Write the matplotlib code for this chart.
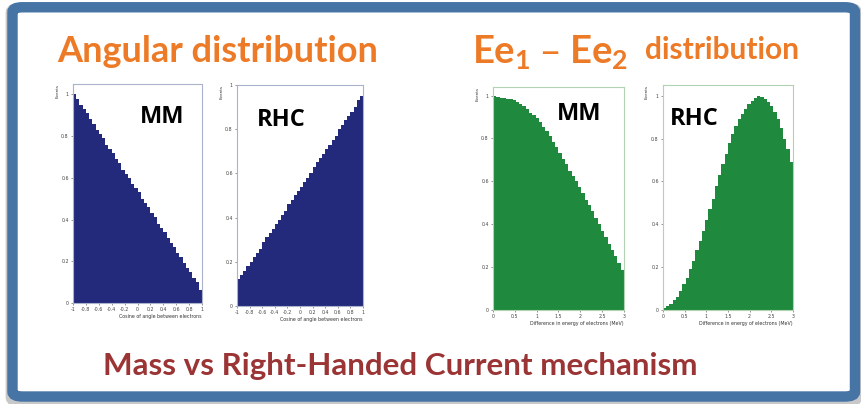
import numpy as np
import matplotlib
matplotlib.use("Agg")
import matplotlib.pyplot as plt
from matplotlib.patches import FancyBboxPatch

# ---------------- data ----------------
ang_mm = [1.00, 0.98, 0.95, 0.93, 0.91, 0.88, 0.86, 0.83, 0.81, 0.79,
          0.76, 0.74, 0.72, 0.69, 0.67, 0.64, 0.62, 0.60, 0.57, 0.55,
          0.53, 0.50, 0.48, 0.46, 0.43, 0.41, 0.38, 0.36, 0.34, 0.31,
          0.29, 0.27, 0.24, 0.22, 0.19, 0.17, 0.15, 0.12, 0.10, 0.06]
ang_rhc = [0.12, 0.14, 0.16, 0.18, 0.20, 0.22, 0.24, 0.26, 0.29, 0.31,
           0.33, 0.35, 0.37, 0.39, 0.41, 0.43, 0.46, 0.48, 0.50, 0.52,
           0.54, 0.56, 0.58, 0.60, 0.63, 0.65, 0.67, 0.69, 0.71, 0.73,
           0.75, 0.77, 0.80, 0.82, 0.84, 0.86, 0.88, 0.90, 0.93, 0.95]
de_mm = [1.00, 0.995, 0.99, 0.99, 0.985, 0.985, 0.98, 0.97, 0.96, 0.95,
         0.935, 0.92, 0.91, 0.895, 0.875, 0.855, 0.835, 0.81, 0.785, 0.76,
         0.73, 0.705, 0.68, 0.65, 0.625, 0.60, 0.575, 0.545, 0.515, 0.49,
         0.46, 0.43, 0.40, 0.37, 0.34, 0.31, 0.28, 0.25, 0.22, 0.185]
de_rhc = [0.01, 0.02, 0.03, 0.045, 0.06, 0.09, 0.12, 0.15, 0.19, 0.23,
          0.28, 0.32, 0.37, 0.42, 0.47, 0.52, 0.58, 0.63, 0.68, 0.73,
          0.78, 0.82, 0.86, 0.89, 0.915, 0.94, 0.96, 0.975, 0.99, 1.00,
          0.995, 0.985, 0.97, 0.95, 0.925, 0.89, 0.85, 0.80, 0.75, 0.69]

ang_range = (-1.0, 1.0)
de_range = (0.0, 3.0)
ang_ticks = [-1, -0.8, -0.6, -0.4, -0.2, 0, 0.2, 0.4, 0.6, 0.8, 1]
ang_ticklabels = ["-1", "-0.8", "-0.6", "-0.4", "-0.2", "0", "0.2", "0.4", "0.6", "0.8", "1"]
de_ticks = [0, 0.5, 1, 1.5, 2, 2.5, 3]
de_ticklabels = ["0", "0.5", "1", "1.5", "2", "2.5", "3"]
y_ticks = [0, 0.2, 0.4, 0.6, 0.8, 1]
y_ticklabels = ["0", "0.2", "0.4", "0.6", "0.8", "1"]

NAVY = "#232a7c"
GREEN = "#1f8a3e"
ORANGE = "#ec7a26"
DARKRED = "#9b3535"
FRAME = "#4674a5"

fig = plt.figure(figsize=(8.61, 4.04), dpi=100)
fig.patch.set_facecolor("white")

# frame with shadow
shadow = FancyBboxPatch((0.013, 0.005), 0.982, 0.975,
                        boxstyle="round,pad=0,rounding_size=0.012",
                        transform=fig.transFigure, facecolor="#c8c8c8",
                        edgecolor="#c8c8c8", linewidth=8, zorder=0)
fig.patches.append(shadow)
frame = FancyBboxPatch((0.0145, 0.0185), 0.9785, 0.9635,
                       boxstyle="round,pad=0,rounding_size=0.012",
                       transform=fig.transFigure, facecolor="white",
                       edgecolor=FRAME, linewidth=7.5, zorder=1)
fig.patches.append(frame)


def panel(rect, values, xr, ylim_top, color, spine_color, xticks, xticklabels,
          xlabel, tag, tag_xy):
    ax = fig.add_axes(rect)
    ax.set_zorder(3)
    n = len(values)
    edges = np.linspace(xr[0], xr[1], n + 1)
    ax.stairs(values, edges, fill=True, color=color, linewidth=0)
    ax.set_xlim(xr)
    ax.set_ylim(0, ylim_top)
    ax.set_xticks(xticks)
    ax.set_xticklabels(xticklabels)
    ax.set_yticks(y_ticks)
    ax.set_yticklabels(y_ticklabels)
    ax.tick_params(labelsize=3.4, length=1.5, width=0.4, pad=1.5,
                   colors="#444444")
    for s in ax.spines.values():
        s.set_color(spine_color)
        s.set_linewidth(0.8)
    ax.set_xlabel(xlabel, fontsize=3.4, color="#333333", labelpad=1.5,
                  loc="right")
    ax.set_ylabel("Events", fontsize=3.0, color="#333333", labelpad=1.5,
                  loc="top")
    ax.text(tag_xy[0], tag_xy[1], tag, transform=ax.transAxes,
            fontsize=17, fontweight="bold", family="Open Sans",
            color="black", ha="left", va="center")
    return ax


panel([0.0848, 0.250, 0.1498, 0.542], ang_mm, ang_range, 1.05, NAVY, "#aab2cc",
      ang_ticks, ang_ticklabels, "Cosine of angle between electrons", "MM", (0.52, 0.85))
panel([0.2753, 0.2426, 0.1463, 0.547], ang_rhc, ang_range, 1.0, NAVY, "#aab2cc",
      ang_ticks, ang_ticklabels, "Cosine of angle between electrons", "RHC", (0.16, 0.84))
panel([0.5726, 0.2327, 0.152, 0.552], de_mm, de_range, 1.04, GREEN, "#b2d2b2",
      de_ticks, de_ticklabels, "Difference in energy of electrons (MeV)", "MM", (0.49, 0.88))
panel([0.770, 0.2327, 0.151, 0.557], de_rhc, de_range, 1.05, GREEN, "#b2d2b2",
      de_ticks, de_ticklabels, "Difference in energy of electrons (MeV)", "RHC", (0.05, 0.85))

# titles
fig.text(57 / 861, 1 - 52 / 404, "Angular distribution", fontsize=26,
         fontweight="bold", family="Lato", color=ORANGE, ha="left", va="center")
fig.text(472 / 861, 1 - 53 / 404, r"Ee$_\mathregular{1}$ – Ee$_\mathregular{2}$",
         fontsize=27.5, fontweight="bold", family="Lato", color=ORANGE,
         ha="left", va="center")
fig.text(645 / 861, 1 - 50 / 404, "distribution", fontsize=21.5,
         fontweight="bold", family="Lato", color=ORANGE, ha="left", va="center")

fig.text(103 / 861, 1 - 366 / 404, "Mass vs Right-Handed Current mechanism",
         fontsize=22.6, fontweight="bold", family="Lato", color=DARKRED,
         ha="left", va="center")

fig.savefig("out.png", dpi=100, facecolor="white")
